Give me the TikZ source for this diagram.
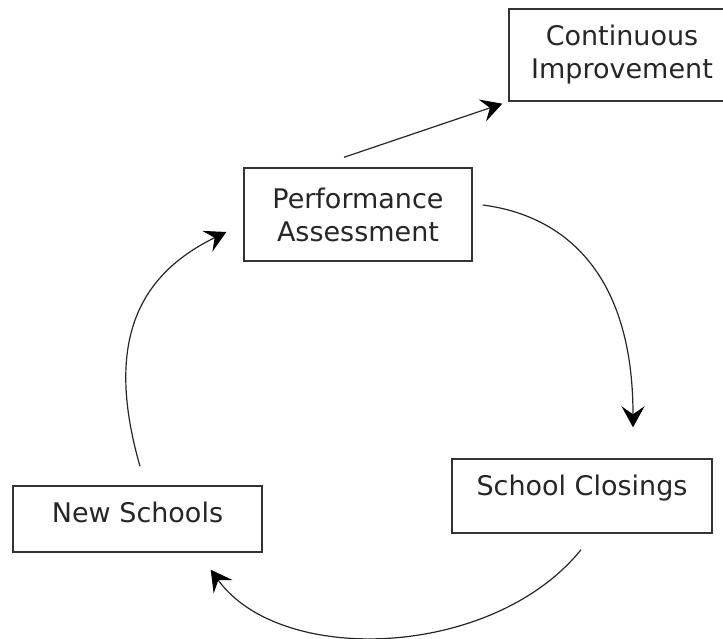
\documentclass[tikz,border=0pt]{standalone}
\usepackage{fontspec}
\setmainfont{DejaVu Sans}
\usetikzlibrary{arrows.meta}

\begin{document}
\begin{tikzpicture}[x=1pt,y=1pt,
  box/.style={draw=black!80,line width=1.4pt,inner sep=0pt,align=center,text=black!85,font=\fontsize{27}{33}\selectfont},
  cyc/.style={draw=black!85,line width=1.2pt,-{Stealth[length=21pt,width=23pt,inset=8pt,black]}}]
\useasboundingbox (0,0) rectangle (723,638);
\node[box,minimum width=226pt,minimum height=92pt] (ci) at (622,583) {Continuous\\Improvement};
\node[box,minimum width=228pt,minimum height=93pt] (pa) at (358,423.5) {Performance\\Assessment};
\node[box,minimum width=260pt,text height=36pt,text depth=38pt] (sc) at (582,142) {School Closings};
\node[box,minimum width=249pt,text height=36pt,text depth=30pt] (ns) at (137.5,119) {New Schools};
\draw[cyc] ([shift={(-14,10)}]pa.north) -- ([shift={(-6,-2)}]ci.south west);
\draw[cyc] ([shift={(10,9.5)}]pa.east) .. controls +(78,-10) and +(0,158) .. ([shift={(51,31)}]sc.north);
\draw[cyc] ([shift={(-1,-16)}]sc.south) .. controls +(-88,-109) and +(70,-97) .. ([shift={(-52,-17)}]ns.south east);
\draw[cyc] ([shift={(2.5,19)}]ns.north) .. controls +(-35,122) and +(-90,-44) .. ([shift={(-17,-17.5)}]pa.west);
\end{tikzpicture}
\end{document}
